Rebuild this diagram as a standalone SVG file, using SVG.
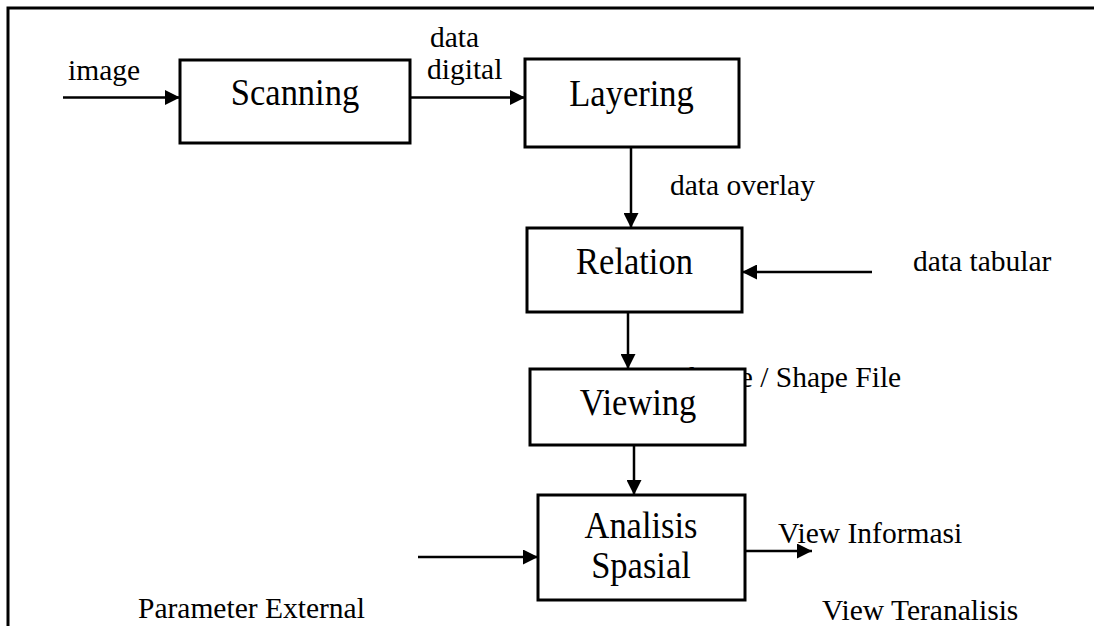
<svg xmlns="http://www.w3.org/2000/svg" width="1094" height="626" viewBox="0 0 1094 626">
<defs>
<style>
.box{fill:#fff;stroke:#000;stroke-width:3}
.con{stroke:#000;stroke-width:2.5;fill:none;marker-end:url(#ah)}
.big{font-family:"Liberation Serif","Times New Roman",serif;font-size:34.5px;fill:#000;text-anchor:middle}
.lbl{font-family:"Liberation Serif","Times New Roman",serif;font-size:29.5px;fill:#000}
</style>
<marker id="ah" viewBox="0 0 10 10" refX="10" refY="5" markerWidth="6" markerHeight="6" markerUnits="strokeWidth" orient="auto">
<path d="M0,0 L10,5 L0,10 Z" fill="#000"/>
</marker>
</defs>
<rect width="1094" height="626" fill="#fff"/>
<path d="M8,626 V8 H1094" fill="none" stroke="#000" stroke-width="3"/>
<g id="labels">
<text class="lbl" x="68" y="80">image</text>
<text class="lbl" x="430" y="47">data</text>
<text class="lbl" x="427" y="79">digital</text>
<text class="lbl" x="670" y="195">data overlay</text>
<text class="lbl" x="913" y="271">data tabular</text>
<text class="lbl" x="671" y="387">Theme / Shape File</text>
<text class="lbl" x="778" y="543">View Informasi</text>
<text class="lbl" x="822" y="620">View Teranalisis</text>
<text class="lbl" x="138" y="618">Parameter External</text>
</g>
<g id="connectors">
<line class="con" x1="63" y1="97.5" x2="180" y2="97.5"/>
<line class="con" x1="410" y1="97.5" x2="525" y2="97.5"/>
<line class="con" x1="631" y1="147" x2="631" y2="228"/>
<line class="con" x1="872" y1="272" x2="742" y2="272"/>
<line class="con" x1="628" y1="312" x2="628" y2="369"/>
<line class="con" x1="634" y1="441" x2="634" y2="495"/>
<line class="con" x1="418" y1="557" x2="538" y2="557"/>
<line class="con" x1="743" y1="551" x2="812" y2="551"/>
</g>
<g id="scanning"><rect class="box" x="180" y="60" width="230" height="83"/><text class="big" transform="translate(295,105) scale(1,1.08)">Scanning</text></g>
<g id="layering"><rect class="box" x="525" y="59" width="214" height="88"/><text class="big" transform="translate(631.5,106) scale(1,1.08)">Layering</text></g>
<g id="relation"><rect class="box" x="527" y="228" width="215" height="84"/><text class="big" transform="translate(634.5,274) scale(1,1.08)">Relation</text></g>
<g id="viewing"><rect class="box" x="530" y="369" width="215" height="76"/><text class="big" transform="translate(638,415) scale(1,1.08)">Viewing</text></g>
<g id="analisis"><rect class="box" x="538" y="495" width="207" height="105"/><text class="big" transform="translate(641,538) scale(1,1.08)">Analisis</text><text class="big" transform="translate(641,578) scale(1,1.08)">Spasial</text></g>
</svg>
